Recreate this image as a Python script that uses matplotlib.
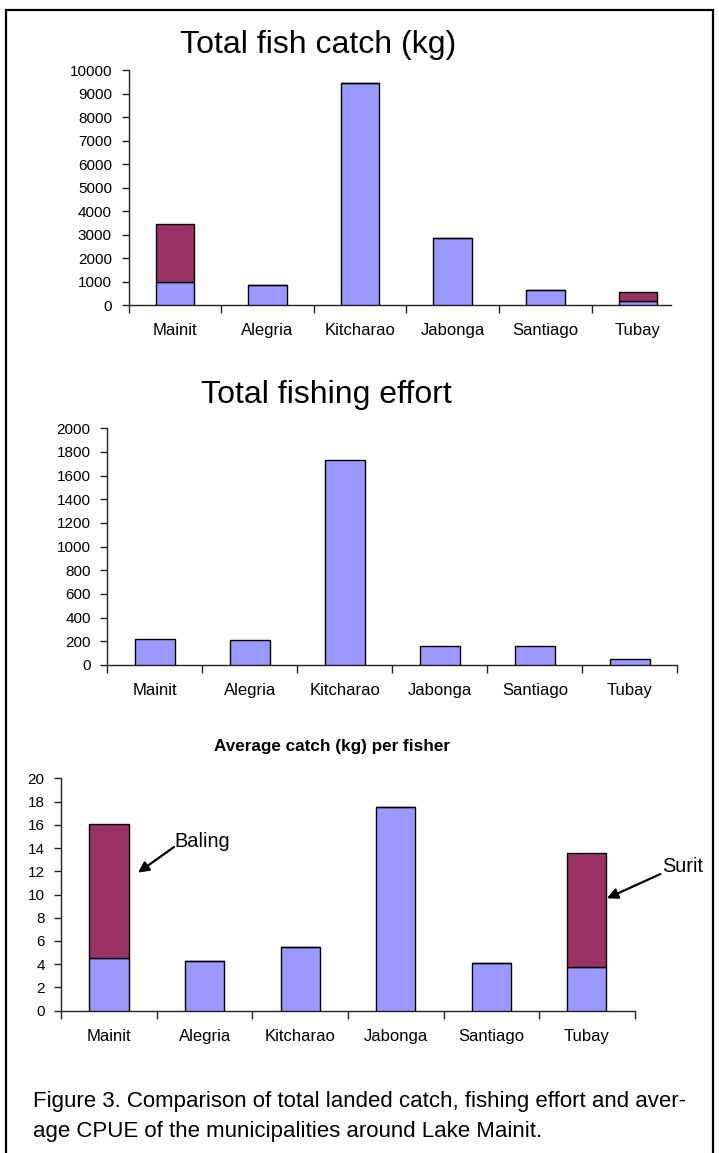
import matplotlib
matplotlib.use("Agg")
import matplotlib.pyplot as plt
from matplotlib.patches import Rectangle
from matplotlib.ticker import FixedLocator, NullFormatter

plt.rcParams['font.family'] = ['Liberation Sans', 'DejaVu Sans']

# ---- data -------------------------------------------------------------
municipalities = ["Mainit", "Alegria", "Kitcharao", "Jabonga", "Santiago", "Tubay"]

# Total fish catch (kg): other species + Baling/Surit component stacked on top
catch_base = [980, 866, 9470, 2870, 645, 170]
catch_top = [2480, 0, 0, 0, 0, 390]

# Total fishing effort
effort = [217, 208, 1730, 161, 161, 48]

# Average catch (kg) per fisher
cpue_base = [4.56, 4.28, 5.51, 17.53, 4.13, 3.79]
cpue_top = [11.48, 0, 0, 0, 0, 9.75]

catch_ticks = list(range(0, 10001, 1000))
effort_ticks = list(range(0, 2001, 200))
cpue_ticks = list(range(0, 21, 2))

BLUE = "#9999FF"
MAROON = "#993366"

W, H = 719, 1153
fig = plt.figure(figsize=(W / 100, H / 100), dpi=100)


def rect(left, top, right, bottom):
    return [left / W, 1 - bottom / H, (right - left) / W, (bottom - top) / H]


def style_axes(ax, ymax, yticks, xend=None):
    n = len(municipalities)
    ax.set_xlim(-0.5, n - 0.5)
    ax.set_ylim(0, ymax)
    for s in ("top", "right"):
        ax.spines[s].set_visible(False)
    for s in ("left", "bottom"):
        ax.spines[s].set_linewidth(1.0)
        ax.spines[s].set_color("#222222")
    if xend is not None:
        ax.spines["bottom"].set_bounds(-0.5, xend)
    bounds = [i - 0.5 for i in range(n + 1)]
    if xend is not None:
        bounds = [b for b in bounds if b <= xend]
    ax.xaxis.set_major_locator(FixedLocator(bounds))
    ax.xaxis.set_major_formatter(NullFormatter())
    ax.xaxis.set_minor_locator(FixedLocator(range(n)))
    ax.set_xticklabels(municipalities, minor=True)
    ax.tick_params(axis="x", which="major", direction="out", length=6,
                   width=1.0, color="#222222")
    ax.tick_params(axis="x", which="minor", length=0, pad=13, labelsize=12)
    ax.set_yticks(yticks)
    ax.tick_params(axis="y", direction="out", length=5, width=1.0,
                   color="#222222", pad=7, labelsize=11)
    ax.patch.set_alpha(0)


bar_kw = dict(edgecolor="black", linewidth=1.0, zorder=3)
x = range(len(municipalities))

# ---- Total fish catch -------------------------------------------------
ax1 = fig.add_axes(rect(128.6, 70.5, 684.2, 305.3))
ax1.bar(x, catch_base, width=0.417, color=BLUE, **bar_kw)
ax1.bar(x, catch_top, width=0.417, bottom=catch_base, color=MAROON,
        **{k: v for k, v in bar_kw.items()})
style_axes(ax1, 10000, catch_ticks, xend=5.357)
fig.text(318 / W, 1 - 53.3 / H, "Total fish catch (kg)", ha="center",
         va="baseline", fontsize=23)

# ---- Total fishing effort ---------------------------------------------
ax2 = fig.add_axes(rect(107.4, 428.3, 677.4, 665.0))
ax2.bar(x, effort, width=0.417, color=BLUE, **bar_kw)
style_axes(ax2, 2000, effort_ticks)
fig.text(326.5 / W, 1 - 402.7 / H, "Total fishing effort", ha="center",
         va="baseline", fontsize=23)

# ---- Average catch per fisher -----------------------------------------
ax3 = fig.add_axes(rect(61.3, 778.3, 634.6, 1010.7))
ax3.bar(x, cpue_base, width=0.41, color=BLUE, **bar_kw)
ax3.bar(x, cpue_top, width=0.41, bottom=cpue_base, color=MAROON, **bar_kw)
style_axes(ax3, 20, cpue_ticks)
fig.text(332.5 / W, 1 - 751 / H, "Average catch (kg) per fisher",
         ha="center", va="baseline", fontsize=12.3, fontweight="bold")

arrow_kw = dict(arrowstyle="-|>", color="black", lw=1.6,
                mutation_scale=16, shrinkA=0, shrinkB=0)
ax3.annotate("", xy=(0.303, 11.88), xytext=(0.68, 14.09),
             arrowprops=arrow_kw, annotation_clip=False)
ax3.text(0.68, 14.11, "Baling", ha="left", va="baseline", fontsize=14.4)
ax3.annotate("", xy=(5.21, 9.67), xytext=(5.77, 11.76),
             arrowprops=arrow_kw, annotation_clip=False)
ax3.text(5.787, 11.96, "Surit", ha="left", va="baseline", fontsize=14.4,
         clip_on=False)

# ---- caption and frame -------------------------------------------------
fig.text(33 / W, 1 - 1107 / H,
         "Figure 3. Comparison of total landed catch, fishing effort and aver-",
         ha="left", va="baseline", fontsize=16)
fig.text(33 / W, 1 - 1137 / H,
         "age CPUE of the municipalities around Lake Mainit.",
         ha="left", va="baseline", fontsize=16)

fig.patches.append(Rectangle((5.5 / W, -0.05), 707 / W, (H - 9.5) / H + 0.05,
                             transform=fig.transFigure, fill=False,
                             edgecolor="black", linewidth=1.6))

fig.savefig("out.png", dpi=100)
